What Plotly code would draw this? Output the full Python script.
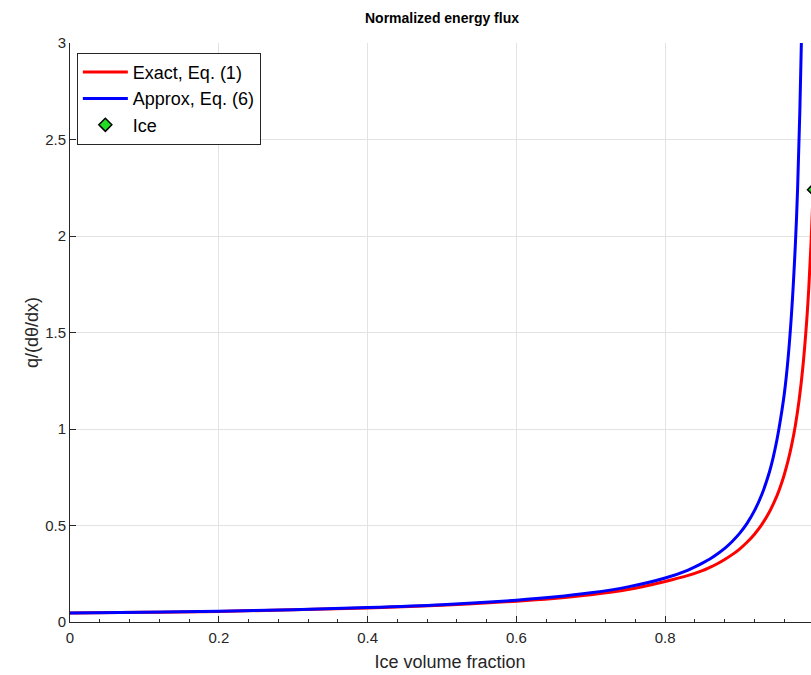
import plotly.graph_objects as go

# Approx, Eq. (6) (blue)
approx_x = [0.0, 0.1, 0.2, 0.3, 0.4, 0.5, 0.6, 0.65, 0.7, 0.75, 0.8, 0.83, 0.85, 0.86, 0.87, 0.88,
            0.89, 0.90, 0.91, 0.92, 0.93, 0.94, 0.945, 0.95, 0.955, 0.96, 0.965, 0.97, 0.975,
            0.978, 0.981, 0.984, 0.986]
approx_y = [0.046, 0.050, 0.056, 0.064, 0.075, 0.090, 0.113, 0.129, 0.151, 0.182, 0.228, 0.268, 0.305,
            0.326, 0.352, 0.381, 0.417, 0.459, 0.511, 0.577, 0.662, 0.776, 0.85, 0.94, 1.05, 1.18,
            1.36, 1.61, 1.96, 2.25, 2.65, 3.2, 3.75]

# Exact, Eq. (1) (red)
exact_x = [0.0, 0.1, 0.2, 0.3, 0.4, 0.5, 0.6, 0.65, 0.7, 0.75, 0.8, 0.83, 0.85, 0.86, 0.87, 0.88,
           0.89, 0.90, 0.91, 0.92, 0.93, 0.94, 0.95, 0.955, 0.96, 0.965, 0.97, 0.975, 0.98, 0.985,
           0.99, 0.993, 0.996, 0.999]
exact_y = [0.046, 0.050, 0.055, 0.063, 0.073, 0.087, 0.108, 0.122, 0.141, 0.168, 0.210, 0.240, 0.266,
           0.283, 0.302, 0.324, 0.349, 0.378, 0.413, 0.455, 0.506, 0.570, 0.652, 0.703, 0.763, 0.833,
           0.918, 1.02, 1.15, 1.32, 1.55, 1.73, 1.96, 2.25]

# Ice point
ice_x = [1.0]
ice_y = [2.24]

# Tick labels
x_ticks = [0, 0.2, 0.4, 0.6, 0.8]
x_tick_text = ["0", "0.2", "0.4", "0.6", "0.8"]
y_ticks = [0, 0.5, 1, 1.5, 2, 2.5, 3]
y_tick_text = ["0", "0.5", "1", "1.5", "2", "2.5", "3"]

FONT = "Liberation Sans, Arial, Helvetica, sans-serif"
TXT = "#262626"

# The original axes run slightly past the right edge of the 811 px window (x = 1 sits just
# outside it), so the figure is drawn a little wider and the window crops it.
FIG_W = 830
X_MAX = (FIG_W - 70) / 744.0

fig = go.Figure()
fig.add_trace(go.Scatter(x=exact_x, y=exact_y, mode="lines", name="Exact, Eq. (1)",
                         line=dict(color="#ff0000", width=3, shape="spline", smoothing=1.0)))
fig.add_trace(go.Scatter(x=approx_x, y=approx_y, mode="lines", name="Approx, Eq. (6)",
                         line=dict(color="#0000ff", width=3, shape="spline", smoothing=1.0)))
fig.add_trace(go.Scatter(x=ice_x, y=ice_y, mode="markers", name="Ice",
                         marker=dict(symbol="diamond", size=10, color="#22dd22",
                                     line=dict(color="black", width=1.5))))

fig.update_layout(
    width=FIG_W, height=675,
    margin=dict(l=70, r=0, t=43, b=53, autoexpand=False),
    paper_bgcolor="white", plot_bgcolor="white",
    font=dict(family=FONT, size=15, color=TXT),
    title=dict(text="<b>Normalized energy flux</b>", x=(442 - 70) / (FIG_W - 70), xref="paper",
               y=0.973, yref="container", xanchor="center", yanchor="middle",
               font=dict(family=FONT, size=14, color="black")),
    showlegend=True,
    legend=dict(x=0.009, y=0.983, xanchor="left", yanchor="top", bgcolor="white",
                bordercolor=TXT, borderwidth=1, font=dict(family=FONT, size=18, color="black"),
                tracegroupgap=0, itemwidth=45),
)

fig.update_xaxes(
    range=[0, X_MAX], tickvals=x_ticks, ticktext=x_tick_text,
    showgrid=True, gridcolor="#e3e3e3", gridwidth=1, zeroline=False, automargin=False,
    showline=True, linecolor="#262626", linewidth=1,
    ticks="inside", ticklen=6, tickcolor="#262626", ticklabelstandoff=2,
    minor=dict(dtick=0.04, ticks="inside", ticklen=3, tickcolor="#262626", showgrid=False),
    tickfont=dict(size=15, color=TXT),
    title=dict(text="Ice volume fraction", font=dict(size=18, color=TXT), standoff=10),
)
fig.update_yaxes(
    range=[0, 3], tickvals=y_ticks, ticktext=y_tick_text,
    showgrid=True, gridcolor="#e3e3e3", gridwidth=1, zeroline=False, automargin=False,
    showline=True, linecolor="#262626", linewidth=1,
    ticks="inside", ticklen=6, tickcolor="#262626",
    tickfont=dict(size=15, color=TXT),
    title=dict(text="q/(dθ/dx)", font=dict(size=18, color=TXT), standoff=1),
)

fig.write_html("out.html", config={"displayModeBar": False},
               post_script="document.body.style.margin='0';document.body.style.overflow='hidden';")
